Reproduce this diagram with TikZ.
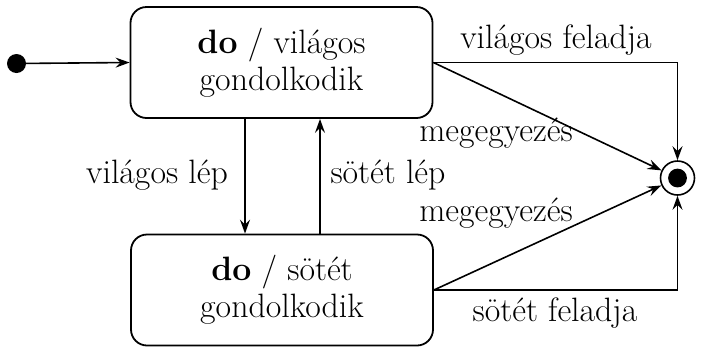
\documentclass[tikz,border=0pt]{standalone}
\usetikzlibrary{arrows.meta}
\begin{document}
\begin{tikzpicture}[x=0.5pt,y=-0.5pt,
  every node/.style={font=\fontsize{16.9}{18.5}\selectfont},
  state/.style={draw,line width=0.9pt,rounded corners=8pt,minimum width=151pt,minimum height=55.5pt,align=center,inner sep=0pt},
  lbl/.style={inner sep=0pt},
  conn/.style={line width=0.8pt,-{Stealth[length=7pt,width=5pt,inset=2.5pt]}}]
\useasboundingbox (0,0) rectangle (701,349);
\fill (16.5,63.5) circle (4.75pt) coordinate (init);
\node[state] (s1) at (281.5,62.5) {\textbf{do} / világos\\gondolkodik};
\node[state] (s2) at (282,290) {\textbf{do} / sötét\\gondolkodik};
\node[circle,draw,line width=0.8pt,minimum size=17pt,inner sep=0pt] (fin) at (677.5,178) {};
\fill (fin.center) circle (4.7pt);
\draw[conn] (init) -- (s1.west);
\draw[conn] (s1.south -| 245,0) -- (s2.north -| 245,0);
\draw[conn] (s2.north -| 320,0) -- (s1.south -| 320,0);
\coordinate (c1) at (677.5,62.5);
\coordinate (c2) at (677.5,290);
\draw[conn] (s1.east) -- (c1) -- (fin.north);
\draw[conn] (s2.east) -- (c2) -- (fin.south);
\draw[conn] (s1.east) -- (fin);
\draw[conn] (s2.east) -- (fin);
\node[lbl] at (556,40) {világos feladja};
\node[lbl] at (496,133) {megegyezés};
\node[lbl] at (496,213) {megegyezés};
\node[lbl] at (157,175) {világos lép};
\node[lbl] at (388,175) {sötét lép};
\node[lbl] at (555,313) {sötét feladja};
\end{tikzpicture}
\end{document}
